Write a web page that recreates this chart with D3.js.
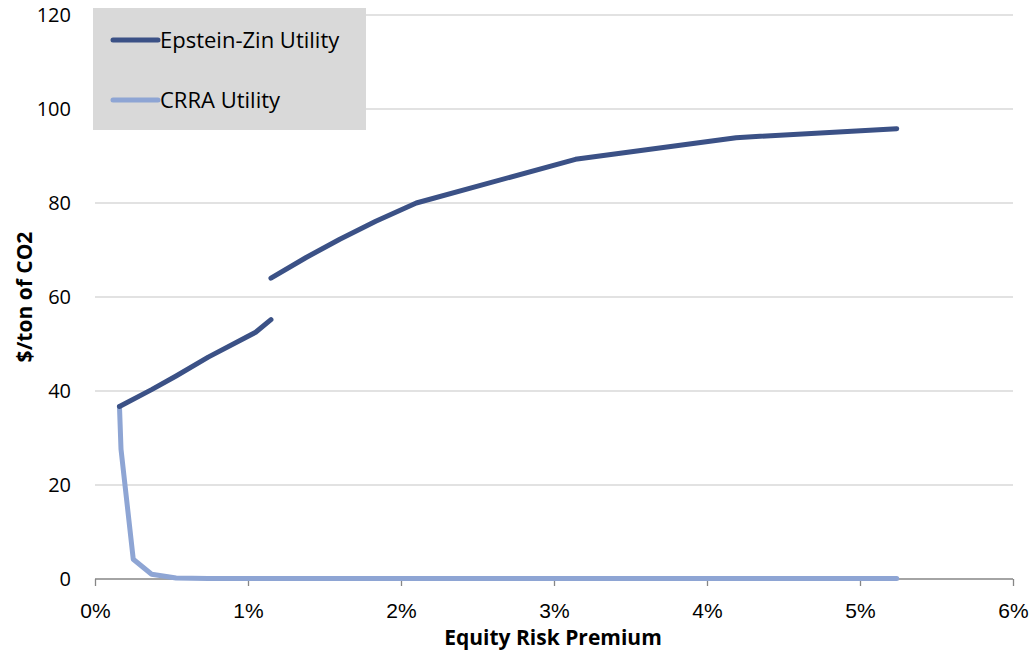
<!DOCTYPE html>
<html><head><meta charset="utf-8">
<script src="https://cdn.jsdelivr.net/npm/d3@7"></script>
<style>body{margin:0;background:#fff}svg{display:block}</style>
</head><body><svg id="c" width="1029" height="656"></svg>
<script>
// Equity risk premium (%) and social cost of carbon ($/ton CO2)
const ezX  = [0.16, 0.37, 0.53, 0.74, 1.05, 1.15, null, 1.15, 1.38, 1.60, 1.835, 2.10, 3.14, 4.19, 5.24];
const ezY  = [36.7, 40.3, 43.2, 47.2, 52.5, 55.2, null, 64.0, 68.4, 72.3, 76.1, 80.0, 89.3, 93.9, 95.8];
const crraX = [0.16, 0.17, 0.25, 0.37, 0.53, 0.74, 1.05, 2.10, 3.14, 4.19, 5.24];
const crraY = [36.7, 27.6, 4.2, 1.0, 0.2, 0.1, 0.1, 0.1, 0.1, 0.1, 0.1];
const xTicks = [0, 1, 2, 3, 4, 5, 6];
const yTicks = [0, 20, 40, 60, 80, 100, 120];
const seriesNames = ["Epstein-Zin Utility", "CRRA Utility"];
const colors = ["#3b5186", "#8ea5d4"];

const svg = d3.select("#c");
const x = d3.scaleLinear().domain([0, 6]).range([95, 1013]);
const y = d3.scaleLinear().domain([0, 120]).range([579, 15]);

// gridlines
svg.append("g").selectAll("line").data(yTicks.filter(d => d > 0)).join("line")
  .attr("x1", x(0)).attr("x2", x(6)).attr("y1", d => y(d)).attr("y2", d => y(d))
  .attr("stroke", "#d9d9d9").attr("stroke-width", 1.3);

// y axis labels
const yAxis = d3.axisLeft(y).tickValues(yTicks).tickSize(0).tickPadding(0);
const gy = svg.append("g").attr("transform", "translate(71,0)").call(yAxis);
gy.select(".domain").remove();
gy.selectAll("text").attr("font-family", "'Open Sans', sans-serif").attr("font-size", 20).attr("fill", "#000");

// x axis
const xAxis = d3.axisBottom(x).tickValues(xTicks).tickFormat(d => d + "%").tickSize(7).tickPadding(17);
const gx = svg.append("g").attr("transform", `translate(0,${y(0)})`).call(xAxis);
gx.select(".domain").attr("stroke", "#868686").attr("stroke-width", 1.3).attr("d", `M${x(0)},0H${x(6)}`);
gx.selectAll(".tick line").attr("stroke", "#868686").attr("stroke-width", 1.3);
gx.selectAll("text").attr("font-family", "'Liberation Sans', sans-serif").attr("font-size", 21).attr("fill", "#000");

// legend box
svg.append("rect").attr("x", 93).attr("y", 8).attr("width", 273).attr("height", 122).attr("fill", "#d9d9d9");

// lines
const line = d3.line().defined(d => d[0] !== null && d[1] !== null).x(d => x(d[0])).y(d => y(d[1]));
const ezData = ezX.map((v, i) => [v, ezY[i]]);
const crraData = crraX.map((v, i) => [v, crraY[i]]);
svg.append("path").datum(crraData).attr("d", line).attr("fill", "none")
  .attr("stroke", colors[1]).attr("stroke-width", 5).attr("stroke-linejoin", "round").attr("stroke-linecap", "round");
svg.append("path").datum(ezData).attr("d", line).attr("fill", "none")
  .attr("stroke", colors[0]).attr("stroke-width", 5).attr("stroke-linejoin", "round").attr("stroke-linecap", "round");

// legend entries
const lg = svg.append("g");
seriesNames.forEach((n, i) => {
  const yy = 40 + i * 60;
  lg.append("line").attr("x1", 113).attr("x2", 158).attr("y1", yy).attr("y2", yy)
    .attr("stroke", colors[i]).attr("stroke-width", 5).attr("stroke-linecap", "round");
  lg.append("text").attr("x", 160).attr("y", yy + 8).text(n)
    .attr("font-family", "'Open Sans', sans-serif").attr("font-size", 22).attr("fill", "#000");
});

// axis titles
svg.append("text").attr("x", 553).attr("y", 645).attr("text-anchor", "middle").text("Equity Risk Premium")
  .attr("font-family", "'Open Sans', sans-serif").attr("font-weight", "bold").attr("font-size", 21);
svg.append("text").attr("transform", "translate(32,297) rotate(-90)").attr("text-anchor", "middle").text("$/ton of CO2")
  .attr("font-family", "'Open Sans', sans-serif").attr("font-weight", "bold").attr("font-size", 21);
</script></body></html>
